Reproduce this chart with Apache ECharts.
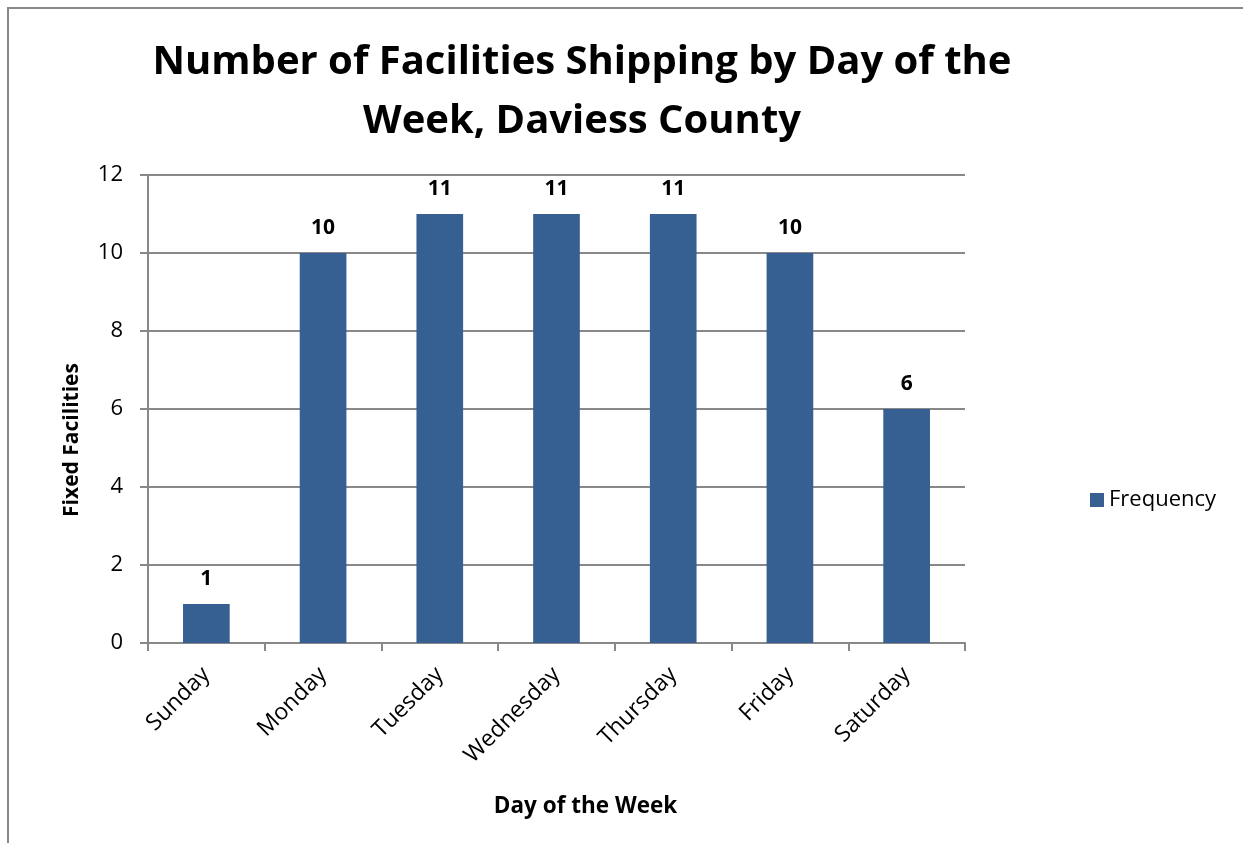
<!DOCTYPE html>
<html><head><meta charset="utf-8">
<script src="https://cdn.jsdelivr.net/npm/echarts@6/dist/echarts.min.js"></script>
<style>html,body{margin:0;padding:0;background:#fff}#c{width:1243px;height:843px}</style>
</head><body><div id="c"></div>
<script>
const categories = ["Sunday","Monday","Tuesday","Wednesday","Thursday","Friday","Saturday"];
const frequency = [1,10,11,11,11,10,6];
const titleText = "Number of Facilities Shipping by Day of the\nWeek, Daviess County";
const seriesName = "Frequency";
const xName = "Day of the Week";
const yName = "Fixed Facilities";

const FONT = "'Open Sans', 'DejaVu Sans', sans-serif";
const chart = echarts.init(document.getElementById('c'), null, {renderer:'canvas'});
chart.setOption({
  backgroundColor:'#fff',
  animation:false,
  graphic:[{type:'rect', shape:{x:8,y:8,width:1300,height:1000}, style:{fill:'none', stroke:'#888', lineWidth:2}, silent:true}],
  title:{text:titleText, left:577, top:28, textAlign:'center',
    textStyle:{fontFamily:FONT, fontSize:40, fontWeight:'bold', color:'#000', lineHeight:59}},
  legend:{data:[seriesName], left:1085, top:484, itemWidth:14, itemHeight:14, icon:'rect', itemGap:8,
    textStyle:{fontFamily:FONT, fontSize:22, color:'#000'}},
  grid:{left:148, right:1243-965, top:175, bottom:843-643, containLabel:false},
  xAxis:{type:'category', data:categories, name:xName, nameLocation:'middle', nameGap:152,
    nameTextStyle:{fontFamily:FONT, fontSize:22.5, fontWeight:'bold', color:'#000', padding:[0,0,0,58]},
    axisLine:{lineStyle:{color:'#888', width:2}},
    axisTick:{show:true, length:8, lineStyle:{color:'#888', width:2}, alignWithLabel:false},
    axisLabel:{rotate:45, fontFamily:FONT, fontSize:23, color:'#000', margin:28, interval:0}},
  yAxis:{type:'value', min:0, max:12, interval:2, name:yName, nameLocation:'middle', nameGap:65,
    nameTextStyle:{fontFamily:FONT, fontSize:21, fontWeight:'bold', color:'#000', padding:[0,62,0,0]},
    axisLine:{show:true, lineStyle:{color:'#888', width:2}},
    axisTick:{show:true, length:8, lineStyle:{color:'#888', width:2}},
    axisLabel:{fontFamily:FONT, fontSize:22, color:'#000', margin:25},
    splitLine:{lineStyle:{color:'#888', width:2}}},
  series:[{name:seriesName, type:'bar', data:frequency, barWidth:'40%',
    itemStyle:{color:'#376092'},
    label:{show:true, position:'top', distance:14, fontFamily:FONT, fontSize:21, fontWeight:'bold', color:'#000'}}]
});
</script></body></html>
